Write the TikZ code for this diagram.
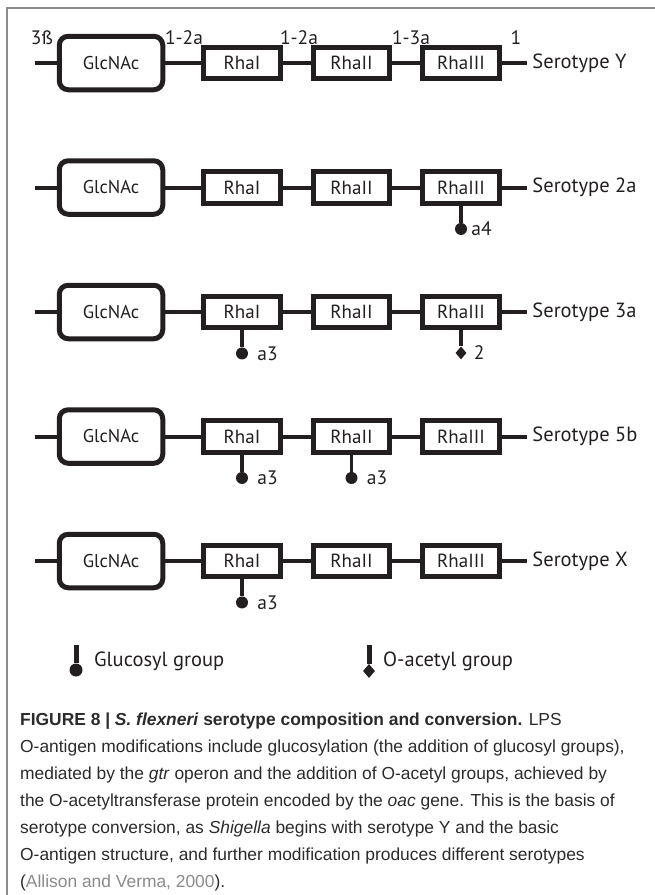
\documentclass[tikz,border=0pt]{standalone}
\usepackage{fontspec}
\setmainfont{PT Sans}
\newfontfamily\capfont{Liberation Sans}
\usetikzlibrary{shapes.geometric,positioning}
\definecolor{ink}{HTML}{231F20}
\definecolor{framegray}{HTML}{8C8C8C}
\definecolor{citegray}{HTML}{8A8A8A}
\definecolor{captext}{HTML}{2B2B2B}

\begin{document}
\begin{tikzpicture}[x=1pt, y=-1pt,
    node distance=28pt,
    glc/.style={rectangle, draw=ink, line width=5pt, rounded corners=9pt, fill=white, minimum width=103.5pt, minimum height=53.5pt, font=\fontsize{18.5}{20}\selectfont, text=ink},
    rha/.style={rectangle, draw=ink, line width=5pt, fill=white, minimum width=76.5pt, minimum height=31.5pt, font=\fontsize{19}{20}\selectfont, text=ink},
    link/.style={draw=ink, line width=4pt},
    stemline/.style={draw=ink, line width=3.5pt},
    glcdot/.style={circle, fill=ink, inner sep=0pt, minimum size=12pt},
    acdot/.style={diamond, fill=ink, inner sep=0pt, minimum width=11pt, minimum height=13pt},
    sero/.style={font=\fontsize{20.5}{22}\selectfont, text=ink, inner sep=1pt},
    bond/.style={font=\fontsize{19.5}{21}\selectfont, text=ink, inner sep=1pt},
    mod/.style={font=\fontsize{19.5}{21}\selectfont, text=ink, inner sep=1pt}]
    \useasboundingbox (0,0) rectangle (655,895);
    \draw[framegray, line width=1.5pt] (7,895) -- (7,8) -- (655,8);

    % serotype Y
    \node[glc] (glcY) at (111,63) {GlcNAc};
    \node[rha, right=36pt of glcY] (r1Y) {RhaI};
    \node[rha, right=of r1Y] (r2Y) {RhaII};
    \node[rha, right=of r2Y] (r3Y) {RhaIII};
    \coordinate[left=22pt of glcY] (inY);
    \coordinate[right=25.5pt of r3Y] (outY);
    \node[sero, right=4pt of outY] (seroY) {Serotype Y};
    \draw[link] (inY) -- (glcY) (glcY) -- (r1Y) (r1Y) -- (r2Y) (r2Y) -- (r3Y) (r3Y) -- (outY);
    \node[bond] (bondA) at (42,38) {3ß};
    \node[bond] (bondB) at (184,38) {1-2a};
    \node[bond] (bondC) at (299,38) {1-2a};
    \node[bond] (bondD) at (411,38) {1-3a};
    \node[bond] (bondE) at (516,38) {1};

    % serotype 2a
    \node[glc, below=66pt of glcY] (glcIIa) {GlcNAc};
    \node[rha, right=36pt of glcIIa] (r1IIa) {RhaI};
    \node[rha, right=of r1IIa] (r2IIa) {RhaII};
    \node[rha, right=of r2IIa] (r3IIa) {RhaIII};
    \coordinate[left=22pt of glcIIa] (inIIa);
    \coordinate[right=25.5pt of r3IIa] (outIIa);
    \node[sero, right=4pt of outIIa] (seroIIa) {Serotype 2a};
    \draw[link] (inIIa) -- (glcIIa) (glcIIa) -- (r1IIa) (r1IIa) -- (r2IIa) (r2IIa) -- (r3IIa) (r3IIa) -- (outIIa);
    \node[glcdot, below=17pt of r3IIa, label={[mod, label distance=3pt]right:a4}] (g3IIa) {};
    \draw[stemline] (r3IIa) -- (g3IIa);

    % serotype 3a
    \node[glc, below=66pt of glcIIa] (glcIIIa) {GlcNAc};
    \node[rha, right=36pt of glcIIIa] (r1IIIa) {RhaI};
    \node[rha, right=of r1IIIa] (r2IIIa) {RhaII};
    \node[rha, right=of r2IIIa] (r3IIIa) {RhaIII};
    \coordinate[left=22pt of glcIIIa] (inIIIa);
    \coordinate[right=25.5pt of r3IIIa] (outIIIa);
    \node[sero, right=4pt of outIIIa] (seroIIIa) {Serotype 3a};
    \draw[link] (inIIIa) -- (glcIIIa) (glcIIIa) -- (r1IIIa) (r1IIIa) -- (r2IIIa) (r2IIIa) -- (r3IIIa) (r3IIIa) -- (outIIIa);
    \node[glcdot, below=17pt of r1IIIa, label={[mod, label distance=8pt]right:a3}] (g1IIIa) {};
    \draw[stemline] (r1IIIa) -- (g1IIIa);
    \node[acdot, below=16pt of r3IIIa, label={[mod, label distance=6pt]right:2}] (ac3IIIa) {};
    \draw[stemline] (r3IIIa) -- (ac3IIIa);

    % serotype 5b
    \node[glc, below=66pt of glcIIIa] (glcVb) {GlcNAc};
    \node[rha, right=36pt of glcVb] (r1Vb) {RhaI};
    \node[rha, right=of r1Vb] (r2Vb) {RhaII};
    \node[rha, right=of r2Vb] (r3Vb) {RhaIII};
    \coordinate[left=22pt of glcVb] (inVb);
    \coordinate[right=25.5pt of r3Vb] (outVb);
    \node[sero, right=4pt of outVb] (seroVb) {Serotype 5b};
    \draw[link] (inVb) -- (glcVb) (glcVb) -- (r1Vb) (r1Vb) -- (r2Vb) (r2Vb) -- (r3Vb) (r3Vb) -- (outVb);
    \node[glcdot, below=17pt of r1Vb, label={[mod, label distance=8pt]right:a3}] (g1Vb) {};
    \draw[stemline] (r1Vb) -- (g1Vb);
    \node[glcdot, below=17pt of r2Vb, label={[mod, label distance=8pt]right:a3}] (g2Vb) {};
    \draw[stemline] (r2Vb) -- (g2Vb);

    % serotype X
    \node[glc, below=66pt of glcVb] (glcX) {GlcNAc};
    \node[rha, right=36pt of glcX] (r1X) {RhaI};
    \node[rha, right=of r1X] (r2X) {RhaII};
    \node[rha, right=of r2X] (r3X) {RhaIII};
    \coordinate[left=22pt of glcX] (inX);
    \coordinate[right=25.5pt of r3X] (outX);
    \node[sero, right=4pt of outX] (seroX) {Serotype X};
    \draw[link] (inX) -- (glcX) (glcX) -- (r1X) (r1X) -- (r2X) (r2X) -- (r3X) (r3X) -- (outX);
    \node[glcdot, below=17pt of r1X, label={[mod, label distance=8pt]right:a3}] (g1X) {};
    \draw[stemline] (r1X) -- (g1X);

    % key
    \node[glcdot, minimum size=13pt] (keyglc) at (76,670) {};
    \coordinate (keyglctop) at (76,645);
    \draw[ink, line width=5pt] (keyglctop) -- (keyglc);
    \node[sero, anchor=west] (keyglctext) at (93,661) {Glucosyl group};
    \node[acdot, minimum width=12pt, minimum height=14pt] (keyac) at (369,671) {};
    \coordinate (keyactop) at (369,645);
    \draw[ink, line width=5pt] (keyactop) -- (keyac);
    \node[sero, anchor=west] (keyactext) at (382,661) {O-acetyl group};

    % caption
    \node[anchor=north west, inner sep=0pt, align=left, text=captext, font=\capfont\fontsize{17.4}{27}\selectfont] (caption) at (20,713) {%
      \textbf{FIGURE 8 | \textit{S. flexneri} serotype composition and conversion.} LPS\\
      O-antigen modifications include glucosylation (the addition of glucosyl groups),\\
      mediated by the \textit{gtr} operon and the addition of O-acetyl groups, achieved by\\
      the O-acetyltransferase protein encoded by the \textit{oac} gene. This is the basis of\\
      serotype conversion, as \textit{Shigella} begins with serotype Y and the basic\\
      O-antigen structure, and further modification produces different serotypes\\
      ({\color{citegray}Allison and Verma, 2000}).};
\end{tikzpicture}
\end{document}
